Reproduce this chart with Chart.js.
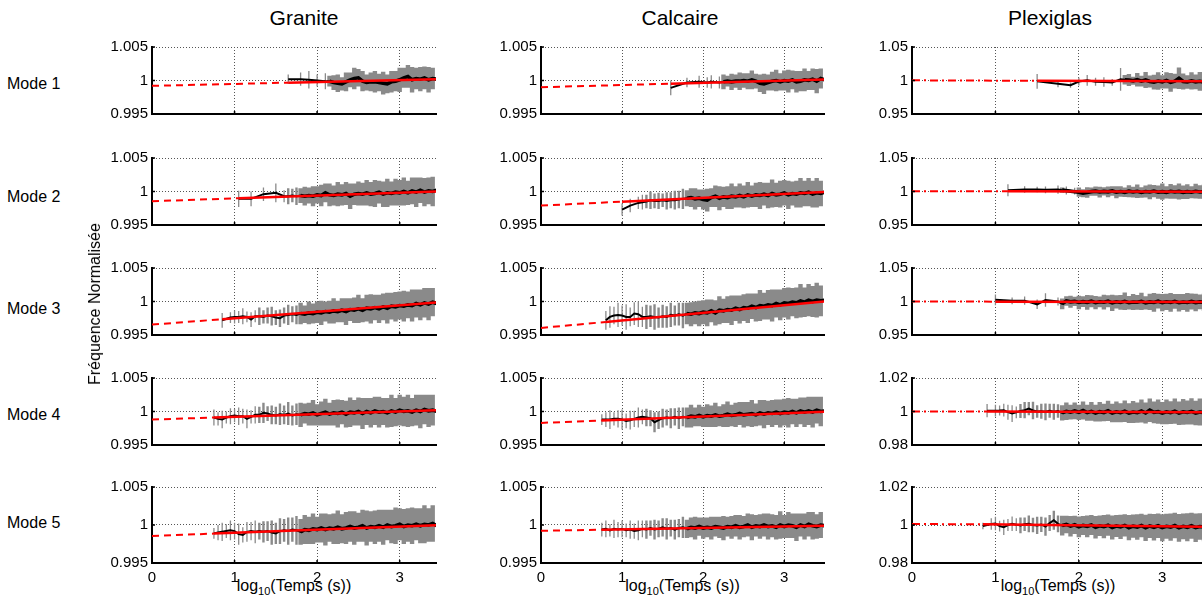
<!DOCTYPE html>
<html>
<head>
<meta charset="utf-8">
<script src="https://cdn.jsdelivr.net/npm/chart.js@4.4.1/dist/chart.umd.min.js"></script>
<style>
  body { margin: 0; background: #fff; overflow: hidden; }
  #fig { position: relative; width: 1202px; height: 602px; overflow: hidden; background: #fff;
         font-family: 'Liberation Sans', Arial, sans-serif; color: #000; }
  .txt { position: absolute; white-space: nowrap; }
  .title { font-size: 21px; line-height: 21px; top: 7px; transform: translateX(-50%); }
  .mode { font-size: 16px; line-height: 16px; left: 7px; }
  .xlab { font-size: 16px; line-height: 16px; top: 578px; transform: translateX(-50%); }
  .xlab sub { font-size: 11px; line-height: 0; vertical-align: -4px; }
  .ylab { font-size: 16px; line-height: 16px; left: 95px; top: 304px;
          transform: translate(-50%, -50%) rotate(-90deg); }
</style>
</head>
<body>
<div id="fig"></div>
<script>
const _ = null;

// log10(time) sampling grid shared by every panel
const LOG_T = [
  0.75, 0.8, 0.85, 0.9, 0.95, 1, 1.05, 1.1, 1.15, 1.2,
  1.25, 1.3, 1.35, 1.4, 1.45, 1.5, 1.55, 1.6, 1.65, 1.7,
  1.75, 1.8, 1.85, 1.9, 1.95, 2, 2.05, 2.1, 2.15, 2.2,
  2.25, 2.3, 2.35, 2.4, 2.45, 2.5, 2.55, 2.6, 2.65, 2.7,
  2.75, 2.8, 2.85, 2.9, 2.95, 3, 3.05, 3.1, 3.15, 3.2,
  3.25, 3.3, 3.35, 3.4, 3.45, 3.5];

const MATERIALS = ['Granite', 'Calcaire', 'Plexiglas'];
const MODES = ['Mode 1', 'Mode 2', 'Mode 3', 'Mode 4', 'Mode 5'];
const X_TICKS = [0, 1, 2, 3];
const Y_TICKS_ROCK = [0.995, 1, 1.005];
const Y_TICKS_PLEXI_WIDE = [0.95, 1, 1.05];
const Y_TICKS_PLEXI_NARROW = [0.98, 1, 1.02];

// ---- Granite ----
const GRANITE_MEAN_1 = [
  _,_,_,_,_,_,_,_,_,_,
  _,_,_,_,_,_,_,_,1.0002,_,
  _,1.0002,_,1.0001,_,1.0000,_,0.9999,0.9999,0.9997,
  0.9996,0.9995,0.9998,1.0001,1.0003,1.0004,0.9999,0.9997,0.9998,0.9998,
  0.9997,0.9996,0.9995,0.9998,0.9999,1.0001,1.0004,1.0006,1.0001,1.0003,
  1.0002,1.0004,1.0001,1.0003,1.0002,1.0003];
const GRANITE_ERR_1 = [
  _,_,_,_,_,_,_,_,_,_,
  _,_,_,_,_,_,_,_,.0007,_,
  _,.0010,_,.0013,_,.0009,_,.0012,.0008,.0011,
  .0013,.0010,.0014,.0011,.0016,.0013,.0015,.0012,.0014,.0016,
  .0013,.0017,.0014,.0016,.0015,.0018,.0015,.0017,.0019,.0016,
  .0018,.0017,.0019,.0016,.0018,.0017];
const GRANITE_FIT_1 = [0.9992, 0.99968, 1.0002];

const GRANITE_MEAN_2 = [
  _,_,_,_,_,_,0.9989,_,_,0.9989,
  _,_,0.9996,_,_,0.9998,_,0.9993,0.9993,0.9994,
  0.9993,0.9994,0.9993,0.9994,0.9993,0.9995,0.9994,0.9998,0.9995,0.9994,
  0.9996,0.9995,0.9997,0.9993,0.9996,0.9997,0.9996,0.9998,0.9996,0.9997,
  0.9999,0.9996,0.9998,0.9997,0.9999,0.9998,1.0000,0.9998,1.0001,0.9999,
  1.0002,0.9999,1.0001,1.0000,1.0002,1.0000];
const GRANITE_ERR_2 = [
  _,_,_,_,_,_,.0012,_,_,.0011,
  _,_,.0010,_,_,.0014,_,.0009,.0012,.0010,
  .0013,.0011,.0014,.0012,.0015,.0013,.0016,.0014,.0017,.0015,
  .0018,.0016,.0017,.0019,.0016,.0018,.0017,.0019,.0018,.0020,
  .0017,.0019,.0021,.0018,.0020,.0019,.0021,.0018,.0020,.0022,
  .0019,.0021,.0020,.0022,.0019,.0021];
const GRANITE_FIT_2 = [0.99855, 0.99899, 1.00002];

const GRANITE_MEAN_3 = [
  _,_,0.9972,_,0.9976,0.9977,0.9977,0.9978,0.9977,0.9973,
  0.9978,0.9978,0.9977,0.9979,0.9978,0.9976,0.9975,0.9979,0.9980,0.9981,
  0.9980,0.9982,0.9981,0.9983,0.9982,0.9984,0.9983,0.9985,0.9984,0.9986,
  0.9985,0.9987,0.9985,0.9988,0.9987,0.9989,0.9987,0.9990,0.9989,0.9991,
  0.9989,0.9992,0.9990,0.9993,0.9992,0.9994,0.9993,0.9995,0.9994,0.9997,
  0.9995,0.9998,0.9996,0.9999,0.9997,0.9998];
const GRANITE_ERR_3 = [
  _,_,.0011,_,.0008,.0010,.0009,.0012,.0008,.0011,
  .0009,.0013,.0010,.0012,.0014,.0011,.0013,.0012,.0015,.0012,
  .0014,.0016,.0013,.0017,.0015,.0016,.0018,.0015,.0017,.0019,
  .0016,.0018,.0020,.0017,.0019,.0021,.0018,.0020,.0022,.0019,
  .0021,.0020,.0023,.0020,.0022,.0021,.0023,.0020,.0024,.0021,
  .0023,.0022,.0024,.0021,.0023,.0022];
const GRANITE_FIT_3 = [0.99655, 0.99736, 0.9999];

const GRANITE_MEAN_4 = [
  0.9991,0.9989,0.9988,0.9991,0.9993,0.9994,0.9993,0.9993,0.9989,0.9992,
  0.9995,0.9995,0.9998,0.9997,0.9995,0.9994,0.9996,0.9995,0.9997,0.9994,
  0.9996,0.9995,0.9997,0.9996,0.9998,0.9995,0.9997,0.9999,0.9996,0.9998,
  0.9997,0.9999,0.9996,0.9999,0.9998,1.0000,0.9997,1.0000,0.9998,1.0001,
  0.9999,1.0000,0.9998,1.0001,0.9999,1.0002,1.0000,1.0001,0.9999,1.0002,
  1.0000,1.0003,1.0001,1.0002,1.0000,1.0002];
const GRANITE_ERR_4 = [
  .0012,.0010,.0013,.0009,.0012,.0010,.0013,.0011,.0014,.0010,
  .0013,.0012,.0015,.0011,.0014,.0013,.0016,.0014,.0017,.0015,
  .0016,.0018,.0015,.0017,.0019,.0016,.0018,.0020,.0017,.0019,
  .0021,.0018,.0020,.0022,.0019,.0021,.0023,.0020,.0022,.0021,
  .0023,.0020,.0022,.0024,.0021,.0023,.0022,.0024,.0021,.0023,
  .0025,.0022,.0024,.0023,.0025,.0023];
const GRANITE_FIT_4 = [0.9988, 0.9991, 1.0002];

const GRANITE_MEAN_5 = [
  0.9989,0.9990,0.9991,0.9992,0.9993,0.9992,0.9988,0.9987,0.9991,0.9992,
  0.9991,0.9992,0.9991,0.9992,0.9990,0.9989,0.9992,0.9993,0.9992,0.9994,
  0.9993,0.9991,0.9994,0.9993,0.9995,0.9994,0.9996,0.9994,0.9996,0.9995,
  0.9997,0.9995,0.9996,0.9998,0.9996,0.9997,0.9999,0.9996,0.9998,0.9997,
  0.9999,0.9997,1.0000,0.9998,0.9999,1.0001,0.9998,1.0000,0.9999,1.0001,
  0.9999,1.0001,1.0000,1.0002,0.9999,1.0001];
const GRANITE_ERR_5 = [
  .0007,.0010,.0012,.0009,.0013,.0011,.0014,.0010,.0013,.0012,
  .0015,.0011,.0014,.0013,.0016,.0014,.0017,.0015,.0018,.0016,
  .0019,.0017,.0019,.0018,.0020,.0017,.0019,.0021,.0018,.0020,
  .0022,.0019,.0021,.0020,.0022,.0019,.0021,.0023,.0020,.0022,
  .0021,.0023,.0020,.0022,.0024,.0021,.0023,.0022,.0024,.0021,
  .0023,.0025,.0022,.0024,.0023,.0024];
const GRANITE_FIT_5 = [0.99855, 0.99887, 1.0000];

// ---- Calcaire ----
const CALCAIRE_MEAN_1 = [
  _,_,_,_,_,_,_,_,_,_,
  _,_,_,_,_,_,_,0.9989,_,_,
  _,0.9997,_,_,0.9998,_,0.9997,0.9998,_,0.9997,
  0.9998,0.9999,0.9998,0.9999,0.9999,1.0000,0.9999,1.0001,0.9999,0.9996,
  0.9995,0.9997,0.9999,1.0000,0.9998,1.0000,0.9999,1.0001,0.9998,0.9999,
  1.0001,1.0000,1.0002,0.9999,1.0003,1.0001];
const CALCAIRE_ERR_1 = [
  _,_,_,_,_,_,_,_,_,_,
  _,_,_,_,_,_,_,.0011,_,_,
  _,.0007,_,_,.0009,_,.0008,.0010,_,.0009,
  .0011,.0008,.0012,.0010,.0013,.0011,.0012,.0014,.0011,.0013,
  .0015,.0012,.0014,.0016,.0013,.0015,.0017,.0014,.0016,.0015,
  .0017,.0014,.0016,.0018,.0015,.0017];
const CALCAIRE_FIT_1 = [0.999, 0.99952, 1.00014];

const CALCAIRE_MEAN_2 = [
  _,_,_,_,_,0.9973,_,0.9979,_,0.9983,
  0.9984,0.9985,0.9987,0.9986,0.9986,0.9987,0.9986,0.9987,0.9987,0.9988,
  0.9989,0.9990,0.9991,0.9989,0.9990,0.9988,0.9987,0.9991,0.9993,0.9990,
  0.9992,0.9991,0.9993,0.9992,0.9994,0.9992,0.9995,0.9993,0.9995,0.9994,
  0.9996,0.9994,0.9997,0.9995,0.9996,0.9998,0.9995,0.9997,0.9996,0.9998,
  0.9997,0.9999,0.9996,0.9998,0.9997,0.9999];
const CALCAIRE_ERR_2 = [
  _,_,_,_,_,.0009,_,.0010,_,.0009,
  .0011,.0010,.0013,.0011,.0012,.0010,.0013,.0012,.0014,.0013,
  .0015,.0012,.0014,.0016,.0013,.0015,.0017,.0014,.0016,.0018,
  .0015,.0017,.0019,.0016,.0018,.0017,.0019,.0016,.0018,.0020,
  .0017,.0019,.0021,.0018,.0020,.0019,.0021,.0018,.0020,.0022,
  .0019,.0021,.0020,.0022,.0019,.0021];
const CALCAIRE_FIT_2 = [0.9979, 0.99848, 0.99993];

const CALCAIRE_MEAN_3 = [
  _,0.9972,0.9977,0.9979,0.9980,0.9979,0.9977,0.9977,0.9982,0.9981,
  0.9977,0.9977,0.9978,0.9977,0.9976,0.9978,0.9977,0.9980,0.9979,0.9981,
  0.9979,0.9982,0.9981,0.9983,0.9982,0.9984,0.9983,0.9986,0.9983,0.9987,
  0.9986,0.9988,0.9987,0.9990,0.9988,0.9991,0.9990,0.9993,0.9991,0.9994,
  0.9993,0.9995,0.9994,0.9997,0.9995,0.9998,0.9997,0.9999,0.9998,1.0001,
  0.9999,1.0002,1.0000,1.0002,1.0001,1.0002];
const CALCAIRE_ERR_3 = [
  _,.0014,.0016,.0013,.0018,.0015,.0019,.0014,.0017,.0019,
  .0015,.0018,.0016,.0019,.0015,.0017,.0016,.0018,.0015,.0017,
  .0019,.0016,.0018,.0017,.0019,.0018,.0020,.0017,.0019,.0021,
  .0018,.0020,.0022,.0019,.0021,.0020,.0022,.0019,.0021,.0023,
  .0020,.0022,.0024,.0021,.0023,.0022,.0024,.0021,.0023,.0025,
  .0022,.0024,.0023,.0026,.0023,.0025];
const CALCAIRE_FIT_3 = [0.99605, 0.99695, 1.0000];

const CALCAIRE_MEAN_4 = [
  0.9988,0.9988,0.9988,0.9989,0.9989,0.9988,0.9986,0.9987,0.9989,0.9991,
  0.9992,0.9991,0.9990,0.9984,0.9987,0.9990,0.9991,0.9990,0.9992,0.9990,
  0.9992,0.9991,0.9993,0.9992,0.9994,0.9992,0.9994,0.9993,0.9995,0.9993,
  0.9994,0.9996,0.9994,0.9995,0.9997,0.9995,0.9996,0.9997,0.9995,0.9998,
  0.9996,0.9998,0.9997,0.9999,0.9997,0.9999,0.9998,1.0000,0.9998,1.0001,
  0.9999,1.0001,0.9999,1.0002,1.0000,1.0001];
const CALCAIRE_ERR_4 = [
  .0008,.0011,.0014,.0010,.0013,.0015,.0011,.0014,.0012,.0015,
  .0011,.0013,.0012,.0015,.0013,.0014,.0012,.0015,.0013,.0016,
  .0014,.0015,.0017,.0014,.0016,.0015,.0017,.0016,.0018,.0015,
  .0017,.0019,.0016,.0018,.0017,.0019,.0018,.0020,.0017,.0019,
  .0021,.0018,.0020,.0019,.0021,.0020,.0022,.0019,.0021,.0020,
  .0022,.0021,.0023,.0020,.0022,.0021];
const CALCAIRE_FIT_4 = [0.9983, 0.99866, 0.99996];

const CALCAIRE_MEAN_5 = [
  0.9994,0.9995,0.9993,0.9995,0.9994,0.9995,0.9993,0.9994,0.9992,0.9993,
  0.9995,0.9994,0.9996,0.9994,0.9995,0.9997,0.9995,0.9996,0.9994,0.9996,
  0.9997,0.9995,0.9997,0.9996,0.9998,0.9996,0.9997,0.9996,0.9998,0.9997,
  0.9996,0.9998,0.9997,0.9999,0.9997,0.9998,1.0000,0.9997,0.9999,0.9998,
  1.0000,0.9998,0.9999,0.9997,1.0000,0.9998,1.0000,0.9999,0.9997,1.0000,
  0.9998,1.0001,0.9999,0.9998,1.0000,0.9999];
const CALCAIRE_ERR_5 = [
  .0009,.0011,.0008,.0012,.0010,.0011,.0009,.0012,.0010,.0013,
  .0011,.0012,.0010,.0013,.0011,.0012,.0014,.0011,.0013,.0012,
  .0014,.0012,.0013,.0015,.0012,.0014,.0013,.0015,.0013,.0014,
  .0016,.0013,.0015,.0014,.0016,.0014,.0015,.0017,.0014,.0016,
  .0015,.0017,.0015,.0016,.0018,.0015,.0017,.0016,.0018,.0015,
  .0017,.0016,.0018,.0016,.0017,.0016];
const CALCAIRE_FIT_5 = [0.99924, 0.99938, 0.99991];

// ---- Plexiglas ----
const PLEXI_MEAN_1 = [
  _,_,_,_,_,_,_,_,_,_,
  _,_,_,_,_,0.9987,_,_,_,_,
  0.9950,_,_,0.9930,_,0.9985,_,1.0003,_,0.9982,
  _,0.9978,_,0.9972,_,1.0018,1.0012,1.0008,0.9995,1.0012,
  0.9990,1.0008,0.9985,0.9975,0.9992,0.9980,1.0002,0.9972,0.9990,1.0035,
  0.9985,0.9978,0.9995,0.9980,0.9988,0.9975];
const PLEXI_ERR_1 = [
  _,_,_,_,_,_,_,_,_,_,
  _,_,_,_,_,.011,_,_,_,_,
  .005,_,_,.004,_,.006,_,.008,_,.006,
  _,.007,_,.005,_,.017,.007,.009,.006,.010,
  .008,.012,.009,.011,.013,.010,.012,.014,.011,.016,
  .012,.010,.013,.011,.014,.012];
const PLEXI_FIT_1 = [1.0003, 0.9995, 0.999];

const PLEXI_MEAN_2 = [
  _,_,_,_,_,_,_,_,1.0018,_,
  _,_,1.0030,_,_,1.0030,_,1.0025,_,_,
  1.0028,1.0020,1.0015,_,1.0005,0.9990,0.9975,0.9985,0.9998,1.0005,
  0.9992,1.0002,0.9995,1.0008,0.9990,1.0000,0.9988,1.0005,0.9992,1.0003,
  0.9985,1.0000,0.9993,1.0006,0.9990,0.9998,0.9987,1.0003,0.9992,1.0001,
  0.9988,0.9998,0.9990,1.0004,0.9993,0.9998];
const PLEXI_ERR_2 = [
  _,_,_,_,_,_,_,_,.009,_,
  _,_,.005,_,_,.004,_,.005,_,_,
  .006,.004,.006,_,.005,.007,.006,.008,.006,.007,
  .008,.006,.008,.007,.009,.008,.007,.009,.008,.010,
  .008,.009,.011,.009,.010,.012,.009,.011,.010,.012,
  .010,.011,.009,.011,.010,.011];
const PLEXI_FIT_2 = [1.0005, 1.0003, 0.9998];

const PLEXI_MEAN_3 = [
  _,_,_,_,_,1.0025,_,_,_,1.0010,
  _,_,1.0013,_,_,0.9958,_,1.0022,_,_,
  1.0000,0.9966,1.0008,0.9995,1.0002,0.9985,0.9998,0.9988,1.0005,0.9983,
  0.9996,0.9990,1.0004,0.9980,0.9995,0.9986,1.0003,0.9982,0.9993,0.9988,
  1.0002,0.9980,0.9994,0.9986,1.0004,0.9983,0.9995,0.9987,1.0003,0.9982,
  0.9993,0.9986,1.0001,0.9984,0.9994,0.9988];
const PLEXI_ERR_3 = [
  _,_,_,_,_,.008,_,_,_,.005,
  _,_,.006,_,_,.007,_,.010,_,_,
  .006,.008,.007,.009,.007,.010,.008,.011,.009,.010,
  .008,.011,.009,.012,.010,.011,.013,.010,.012,.011,
  .013,.010,.012,.014,.011,.013,.012,.014,.011,.013,
  .012,.014,.012,.013,.011,.013];
const PLEXI_FIT_3 = [1.0, 0.9998, 0.9992];

const PLEXI_MEAN_4 = [
  _,_,_,1.0005,_,1.0005,1.0006,1.0008,0.9996,0.9988,
  0.9995,1.0003,1.0008,1.0017,1.0006,1.0000,1.0002,0.9998,1.0004,0.9999,
  1.0003,0.9992,1.0001,0.9996,1.0003,0.9995,1.0006,0.9993,1.0001,0.9990,
  0.9999,0.9994,1.0004,0.9991,0.9998,0.9993,1.0002,0.9990,0.9997,0.9993,
  1.0003,0.9991,1.0008,0.9995,0.9999,0.9990,0.9998,0.9993,1.0002,0.9990,
  0.9998,0.9994,1.0001,0.9991,0.9997,0.9993];
const PLEXI_ERR_4 = [
  _,_,_,.0040,_,.0035,.0030,.0038,.0045,.0050,
  .0035,.0042,.0048,.0040,.0052,.0038,.0045,.0050,.0042,.0048,
  .0040,.0046,.0052,.0044,.0050,.0046,.0054,.0048,.0056,.0050,
  .0058,.0052,.0060,.0055,.0062,.0057,.0064,.0059,.0066,.0060,
  .0068,.0062,.0070,.0065,.0072,.0066,.0074,.0068,.0075,.0070,
  .0077,.0072,.0078,.0073,.0080,.0075];
const PLEXI_FIT_4 = [1.0, 1.0, 0.9996];

const PLEXI_MEAN_5 = [
  _,_,0.9995,_,1.0005,1.0008,0.9994,0.9988,1.0000,1.0007,
  1.0002,0.9998,1.0004,1.0006,1.0000,0.9998,1.0003,0.9992,1.0010,1.0025,
  1.0006,0.9997,1.0003,0.9994,1.0001,0.9990,0.9998,0.9993,1.0000,0.9988,
  0.9996,0.9991,0.9999,0.9987,0.9995,0.9990,0.9998,0.9986,0.9994,0.9989,
  0.9997,0.9985,0.9995,0.9988,0.9996,0.9986,0.9993,0.9989,0.9997,0.9985,
  0.9993,0.9988,0.9996,0.9986,0.9992,0.9989];
const PLEXI_ERR_5 = [
  _,_,.0017,_,.0030,.0036,.0028,.0040,.0032,.0038,
  .0034,.0042,.0036,.0044,.0038,.0046,.0040,.0048,.0042,.0050,
  .0044,.0052,.0046,.0054,.0048,.0055,.0050,.0057,.0052,.0059,
  .0054,.0061,.0056,.0063,.0058,.0064,.0059,.0066,.0061,.0067,
  .0062,.0069,.0064,.0070,.0065,.0071,.0066,.0072,.0067,.0073,
  .0068,.0074,.0069,.0075,.0070,.0074];
const PLEXI_FIT_5 = [1.0005, 1.0004, 0.9991];

const SERIES = [
  [[GRANITE_MEAN_1, GRANITE_ERR_1, GRANITE_FIT_1], [GRANITE_MEAN_2, GRANITE_ERR_2, GRANITE_FIT_2],
   [GRANITE_MEAN_3, GRANITE_ERR_3, GRANITE_FIT_3], [GRANITE_MEAN_4, GRANITE_ERR_4, GRANITE_FIT_4],
   [GRANITE_MEAN_5, GRANITE_ERR_5, GRANITE_FIT_5]],
  [[CALCAIRE_MEAN_1, CALCAIRE_ERR_1, CALCAIRE_FIT_1], [CALCAIRE_MEAN_2, CALCAIRE_ERR_2, CALCAIRE_FIT_2],
   [CALCAIRE_MEAN_3, CALCAIRE_ERR_3, CALCAIRE_FIT_3], [CALCAIRE_MEAN_4, CALCAIRE_ERR_4, CALCAIRE_FIT_4],
   [CALCAIRE_MEAN_5, CALCAIRE_ERR_5, CALCAIRE_FIT_5]],
  [[PLEXI_MEAN_1, PLEXI_ERR_1, PLEXI_FIT_1], [PLEXI_MEAN_2, PLEXI_ERR_2, PLEXI_FIT_2],
   [PLEXI_MEAN_3, PLEXI_ERR_3, PLEXI_FIT_3], [PLEXI_MEAN_4, PLEXI_ERR_4, PLEXI_FIT_4],
   [PLEXI_MEAN_5, PLEXI_ERR_5, PLEXI_FIT_5]]
];

// layout (page pixels)
const COL_LEFT = [152, 541, 912];
const COL_WIDTH = [284, 283, 292];
const X_MAX = [3.44, 3.49, 3.5];
const ROW_TOP = [44, 155, 265, 375, 484];
const ROW_HEIGHT = 79;
const TITLE_X = [304, 680, 1050];
const MODE_Y = [84, 197, 309, 415, 523];
const Y_AXIS_W = 60, PAD_T = 10, PAD_R = 8;
// error bar stroke width by log10(t) region: sparse, medium, dense
const BAR_FROM = [0, 1.3, 1.8];
const BAR_WIDTH = [1.3, 2.4, 4.4];
const RED = '#ff0000', GRAY = '#8a8a8a', GRID = '#555555';

Chart.defaults.font.family = "'Liberation Sans', Arial, sans-serif";
Chart.defaults.font.size = 15;
Chart.defaults.color = '#000';

const inwardTicks = {
    id: 'inwardTicks',
    afterDraw(chart) {
        const { ctx, chartArea: a, scales: { x, y } } = chart;
        ctx.save();
        ctx.strokeStyle = '#000';
        ctx.lineWidth = 1.5;
        ctx.beginPath();
        x.ticks.forEach(t => {
            const px = x.getPixelForValue(t.value);
            ctx.moveTo(px, a.bottom);
            ctx.lineTo(px, a.bottom - 3);
        });
        y.ticks.forEach(t => {
            const py = y.getPixelForValue(t.value);
            ctx.moveTo(a.left, py);
            ctx.lineTo(a.left + 3, py);
        });
        ctx.stroke();
        ctx.restore();
    }
};

function makePanel(fig, col, row) {
    const [mean, err, fit] = SERIES[col][row];
    const yTicks = col < 2 ? Y_TICKS_ROCK : (row < 3 ? Y_TICKS_PLEXI_WIDE : Y_TICKS_PLEXI_NARROW);
    const last = row === MODES.length - 1;
    const xh = last ? 30 : 4;
    const w = Y_AXIS_W + COL_WIDTH[col] + PAD_R;
    const h = PAD_T + ROW_HEIGHT + xh;

    const canvas = document.createElement('canvas');
    canvas.width = w;
    canvas.height = h;
    canvas.style.cssText = `position:absolute;left:${COL_LEFT[col] - Y_AXIS_W}px;top:${ROW_TOP[row] - PAD_T}px;width:${w}px;height:${h}px`;
    fig.appendChild(canvas);

    const n = LOG_T.length;
    const meanPts = [], denseMean = [];
    const bars = BAR_FROM.map(() => []);
    LOG_T.forEach((t, i) => {
        if (mean[i] === null) return;
        meanPts.push({ x: t, y: mean[i] });
        const packed = mean[i - 1] != null && (i === n - 1 || mean[i + 1] != null);
        if (t >= BAR_FROM[2] && packed) denseMean.push({ x: t, y: mean[i] });
        if (err[i] === null) return;
        let g = 0;
        BAR_FROM.forEach((from, k) => { if (t >= from) g = k; });
        if (!packed) g = 0;
        bars[g].push(
            { x: t, y: mean[i] - err[i] },
            { x: t, y: mean[i] + err[i] },
            { x: t, y: null });
    });
    const t0 = meanPts[0].x;
    const tEnd = LOG_T[n - 1];
    const dash = col === 2 ? [8, 4, 2, 4] : [7, 5];

    const datasets = [
        { data: [{ x: 0, y: fit[0] }, { x: t0, y: fit[1] }], borderColor: RED, borderWidth: 2, borderDash: dash, order: 0 },
        { data: [{ x: t0, y: fit[1] }, { x: tEnd, y: fit[2] }], borderColor: RED, borderWidth: 2.5, order: 0 },
        { data: meanPts, borderColor: '#000', borderWidth: 2, order: 1 },
        { data: denseMean, borderColor: '#000', borderWidth: 3.6, order: 1 }
    ];
    bars.forEach((pts, k) => datasets.push(
        { data: pts, borderColor: GRAY, borderWidth: BAR_WIDTH[k], spanGaps: false, order: 2 }));

    new Chart(canvas, {
        type: 'line',
        data: { datasets },
        options: {
            responsive: false,
            animation: false,
            events: [],
            layout: { padding: { top: PAD_T, right: PAD_R, left: 0, bottom: 0 } },
            plugins: { legend: { display: false }, tooltip: { enabled: false } },
            elements: { point: { radius: 0 }, line: { tension: 0, borderCapStyle: 'butt' } },
            scales: {
                x: {
                    type: 'linear', min: 0, max: X_MAX[col],
                    afterFit: s => { s.height = xh; },
                    afterBuildTicks: s => { s.ticks = X_TICKS.map(v => ({ value: v })); },
                    grid: { color: GRID, lineWidth: 1, drawTicks: false },
                    border: { display: true, color: '#000', width: 2, dash: [1, 2] },
                    ticks: { display: last, padding: 6, callback: v => String(v) }
                },
                y: {
                    type: 'linear', min: yTicks[0], max: yTicks[2],
                    afterFit: s => { s.width = Y_AXIS_W; },
                    afterBuildTicks: s => { s.ticks = yTicks.map(v => ({ value: v })); },
                    grid: { color: GRID, lineWidth: 1, drawTicks: false },
                    border: { display: true, color: '#000', width: 2, dash: [1, 2] },
                    ticks: { padding: 4, callback: v => String(v) }
                }
            }
        },
        plugins: [inwardTicks]
    });
}

function addText(fig, cls, html, style) {
    const d = document.createElement('div');
    d.className = 'txt ' + cls;
    d.innerHTML = html;
    Object.assign(d.style, style);
    fig.appendChild(d);
}

document.addEventListener('DOMContentLoaded', () => {
    const fig = document.getElementById('fig');
    MATERIALS.forEach((name, col) => {
        addText(fig, 'title', name, { left: TITLE_X[col] + 'px' });
        addText(fig, 'xlab', 'log<sub>10</sub>(Temps (s))', { left: (COL_LEFT[col] + COL_WIDTH[col] / 2) + 'px' });
        MODES.forEach((m, row) => makePanel(fig, col, row));
    });
    MODES.forEach((m, row) => addText(fig, 'mode', m, { top: (MODE_Y[row] - 8) + 'px' }));
    addText(fig, 'ylab', 'Fréquence Normalisée', {});
});
</script>
</body>
</html>
